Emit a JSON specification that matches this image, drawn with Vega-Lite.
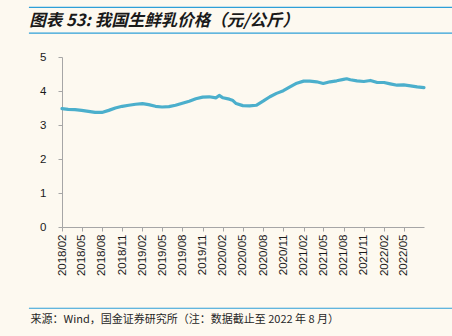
{
  "$schema": "https://vega.github.io/schema/vega-lite/v6.json",
  "width": 362,
  "height": 170,
  "autosize": {"type": "none"},
  "padding": {"left": 62, "top": 57, "right": 28, "bottom": 109},
  "background": "#FDF9F0",
  "config": {
    "view": {"stroke": null},
    "font": "Liberation Sans",
    "axis": {
      "domainColor": "#A6A6A6",
      "tickColor": "#A6A6A6",
      "tickSize": 4,
      "labelColor": "#1A1A1A",
      "labelFont": "Liberation Sans",
      "labelFontSize": 11.5,
      "labelOverlap": false,
      "grid": false
    }
  },
  "title": {
    "text": "图表 53: 我国生鲜乳价格（元/公斤）",
    "font": "Noto Sans CJK SC",
    "fontSize": 16.5,
    "fontWeight": "bold",
    "fontStyle": "italic",
    "color": "#1A1A1A",
    "anchor": "start",
    "dx": 1,
    "offset": 0,
    "dy": 23
  },
  "resolve": {"axis": {"x": "independent", "y": "independent"}},
  "layer": [
    {
      "data": {
        "values": [
          {"date": "2018-02-01", "price": 3.48},
          {"date": "2018-03-01", "price": 3.46},
          {"date": "2018-04-01", "price": 3.45},
          {"date": "2018-05-01", "price": 3.43},
          {"date": "2018-06-01", "price": 3.40},
          {"date": "2018-07-01", "price": 3.37},
          {"date": "2018-08-01", "price": 3.37},
          {"date": "2018-09-01", "price": 3.43},
          {"date": "2018-10-01", "price": 3.50},
          {"date": "2018-11-01", "price": 3.55},
          {"date": "2018-12-01", "price": 3.58},
          {"date": "2019-01-01", "price": 3.61},
          {"date": "2019-02-01", "price": 3.63},
          {"date": "2019-03-01", "price": 3.60},
          {"date": "2019-04-01", "price": 3.55},
          {"date": "2019-05-01", "price": 3.53},
          {"date": "2019-06-01", "price": 3.54},
          {"date": "2019-07-01", "price": 3.58},
          {"date": "2019-08-01", "price": 3.64},
          {"date": "2019-09-01", "price": 3.70},
          {"date": "2019-10-01", "price": 3.77},
          {"date": "2019-11-01", "price": 3.82},
          {"date": "2019-12-01", "price": 3.83},
          {"date": "2020-01-01", "price": 3.80},
          {"date": "2020-01-15", "price": 3.87},
          {"date": "2020-02-01", "price": 3.80},
          {"date": "2020-03-01", "price": 3.76},
          {"date": "2020-03-15", "price": 3.73},
          {"date": "2020-04-01", "price": 3.63},
          {"date": "2020-05-01", "price": 3.57},
          {"date": "2020-06-01", "price": 3.56},
          {"date": "2020-07-01", "price": 3.58},
          {"date": "2020-08-01", "price": 3.70},
          {"date": "2020-09-01", "price": 3.83},
          {"date": "2020-10-01", "price": 3.93},
          {"date": "2020-11-01", "price": 4.01},
          {"date": "2020-12-01", "price": 4.12},
          {"date": "2021-01-01", "price": 4.23},
          {"date": "2021-02-01", "price": 4.29},
          {"date": "2021-03-01", "price": 4.29},
          {"date": "2021-04-01", "price": 4.27},
          {"date": "2021-05-01", "price": 4.22},
          {"date": "2021-06-01", "price": 4.27},
          {"date": "2021-07-01", "price": 4.30},
          {"date": "2021-08-01", "price": 4.34},
          {"date": "2021-08-15", "price": 4.36},
          {"date": "2021-09-01", "price": 4.33},
          {"date": "2021-10-01", "price": 4.30},
          {"date": "2021-11-01", "price": 4.28},
          {"date": "2021-12-01", "price": 4.31},
          {"date": "2022-01-01", "price": 4.25},
          {"date": "2022-02-01", "price": 4.25},
          {"date": "2022-03-01", "price": 4.21},
          {"date": "2022-04-01", "price": 4.17},
          {"date": "2022-05-01", "price": 4.18},
          {"date": "2022-06-01", "price": 4.15},
          {"date": "2022-07-01", "price": 4.12},
          {"date": "2022-08-01", "price": 4.10}
        ]
      },
      "mark": {"type": "line", "color": "#4BAFCC", "strokeWidth": 3.2, "strokeJoin": "round", "strokeCap": "round"},
      "encoding": {
        "x": {
          "field": "date",
          "type": "temporal",
          "scale": {"type": "utc", "domain": [{"year": 2018, "month": 2, "date": 1, "utc": true}, {"year": 2022, "month": 8, "date": 1, "utc": true}]},
          "axis": {
            "format": "%Y/%m",
            "labelAngle": -90,
            "labelPadding": 3,
            "values": [
              {"year": 2018, "month": 2, "date": 1, "utc": true},
              {"year": 2018, "month": 5, "date": 1, "utc": true},
              {"year": 2018, "month": 8, "date": 1, "utc": true},
              {"year": 2018, "month": 11, "date": 1, "utc": true},
              {"year": 2019, "month": 2, "date": 1, "utc": true},
              {"year": 2019, "month": 5, "date": 1, "utc": true},
              {"year": 2019, "month": 8, "date": 1, "utc": true},
              {"year": 2019, "month": 11, "date": 1, "utc": true},
              {"year": 2020, "month": 2, "date": 1, "utc": true},
              {"year": 2020, "month": 5, "date": 1, "utc": true},
              {"year": 2020, "month": 8, "date": 1, "utc": true},
              {"year": 2020, "month": 11, "date": 1, "utc": true},
              {"year": 2021, "month": 2, "date": 1, "utc": true},
              {"year": 2021, "month": 5, "date": 1, "utc": true},
              {"year": 2021, "month": 8, "date": 1, "utc": true},
              {"year": 2021, "month": 11, "date": 1, "utc": true},
              {"year": 2022, "month": 2, "date": 1, "utc": true},
              {"year": 2022, "month": 5, "date": 1, "utc": true}
            ],
            "title": "来源：Wind，国金证券研究所（注：数据截止至 2022 年 8 月）",
            "titleFont": "Noto Sans CJK SC",
            "titleFontSize": 11,
            "titleFontWeight": "normal",
            "titleColor": "#262626",
            "titleAnchor": "start",
            "titleAlign": "left",
            "titleBaseline": "middle",
            "titleX": -32,
            "titleY": 92
          }
        },
        "y": {
          "field": "price",
          "type": "quantitative",
          "scale": {"domain": [0, 5], "nice": false, "zero": true},
          "axis": {"values": [0, 1, 2, 3, 4, 5], "title": null, "labelPadding": 12}
        }
      }
    },
    {
      "data": {"values": [{}]},
      "mark": {"type": "rule", "color": "#2E9FD8", "strokeWidth": 1.2, "clip": false},
      "encoding": {
        "x": {"datum": {"year": 2017, "month": 9, "date": 4, "utc": true}, "type": "temporal", "axis": null},
        "x2": {"datum": {"year": 2023, "month": 6, "date": 1, "utc": true}},
        "y": {"datum": 6.46, "type": "quantitative", "axis": null}
      }
    },
    {
      "data": {"values": [{}]},
      "mark": {"type": "rule", "color": "#2E9FD8", "strokeWidth": 1.2, "clip": false},
      "encoding": {
        "x": {"datum": {"year": 2017, "month": 9, "date": 4, "utc": true}, "type": "temporal", "axis": null},
        "x2": {"datum": {"year": 2023, "month": 6, "date": 1, "utc": true}},
        "y": {"datum": 5.70, "type": "quantitative", "axis": null}
      }
    },
    {
      "data": {"values": [{}]},
      "mark": {"type": "rule", "color": "#2E9FD8", "strokeWidth": 1.2, "clip": false},
      "encoding": {
        "x": {"datum": {"year": 2017, "month": 9, "date": 4, "utc": true}, "type": "temporal", "axis": null},
        "x2": {"datum": {"year": 2023, "month": 6, "date": 1, "utc": true}},
        "y": {"datum": -2.39, "type": "quantitative", "axis": null}
      }
    }
  ]
}
